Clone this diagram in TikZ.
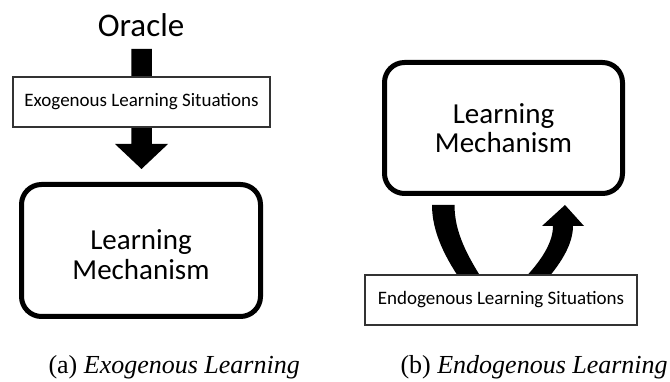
\documentclass[tikz,border=0pt]{standalone}
\usepackage{fontspec}
\usetikzlibrary{calc}
\setmainfont{Liberation Serif}
\newfontfamily\calibrifont{Carlito}
\begin{document}
\begin{tikzpicture}[x=1pt,y=1pt,
  lmbox/.style={draw=black, line width=5pt, rounded corners=20pt, fill=white,
    inner sep=0pt, align=center, font=\calibrifont\fontsize{29}{29.5}\selectfont},
  sitbox/.style={draw=black!80, line width=1.1pt, fill=white, inner sep=0pt,
    font=\calibrifont\fontsize{19}{22}\selectfont},
  caption/.style={anchor=base west, font=\fontsize{26}{28}\selectfont},
  bigarrow/.style={fill=black, draw=none}
]
\useasboundingbox (0,0) rectangle (670,382);

% ---------- (a) Exogenous ----------
\node[font=\calibrifont\fontsize{33}{35}\selectfont] (oracle) at (141,357) {Oracle};
\coordinate (atop) at (141.5,333);
\coordinate (atip) at (141.5,213);
\fill[bigarrow] ($(atop)+(-10.25,0)$) -- ($(atop)+(10.25,0)$) -- ($(atip)+(10.25,25)$)
  -- ($(atip)+(26.5,25)$) -- (atip) -- ($(atip)+(-26.5,25)$) -- ($(atip)+(-10.25,25)$) -- cycle;
\node[sitbox, minimum width=257pt, minimum height=50pt] (exo) at (141.5,280)
  {Exogenous Learning Situations};
\node[lmbox, minimum width=239pt, minimum height=132pt] (lmA) at (141,131.5)
  {\rule{0pt}{28pt}Learning\\Mechanism};

% ---------- (b) Endogenous ----------
% left leg (down from the mechanism)
\fill[bigarrow] (432,177) -- (454.5,177)
  .. controls (454.5,150) and (467,126) .. (486,97)
  -- (464,97) .. controls (445,124) and (432,150) .. (432,177) -- cycle;
% right leg (back up to the mechanism)
\fill[bigarrow] (553,156) -- (573,156)
  .. controls (573,137) and (560,117) .. (542,97)
  -- (518,97) .. controls (538,117) and (553,137) .. (553,156) -- cycle;
\fill[bigarrow] (542,156) -- (584,156) -- (565,177) -- cycle;
\node[lmbox, minimum width=238pt, minimum height=131pt] (lmB) at (503.5,254)
  {Learning\\Mechanism};
\node[sitbox, minimum width=272pt, minimum height=50pt] (endo) at (501,82)
  {Endogenous Learning Situations};

% ---------- captions ----------
\node[caption] (capA) at (45,8) {(a) \textit{Exogenous Learning}};
\node[caption] (capB) at (397,8) {(b) \textit{Endogenous Learning}};
\end{tikzpicture}
\end{document}
